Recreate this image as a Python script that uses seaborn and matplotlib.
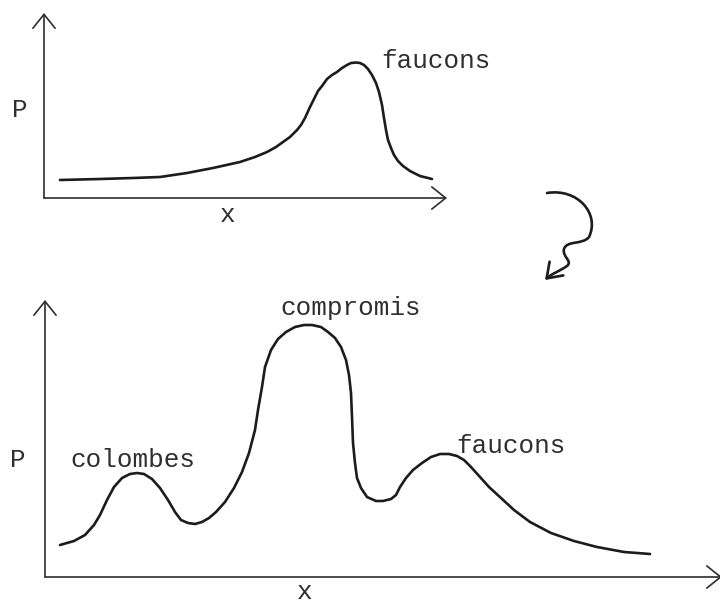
import matplotlib
matplotlib.use("Agg")
import matplotlib.pyplot as plt
from matplotlib.path import Path
from matplotlib.patches import FancyArrowPatch
import pandas as pd
import seaborn as sns

# Upper panel: one dominant population ("faucons"), position x vs probability P
x_top = [16, 36, 56, 89, 116, 143, 169, 196, 211, 223, 232, 239, 246, 253, 257,
         261, 266, 270, 274, 278, 283, 288, 293, 298, 303, 307, 312, 316, 320,
         324, 328, 332, 335, 338, 340, 342, 344, 347, 350, 354, 359, 366, 376, 388]
p_top = [18, 18.5, 19, 20, 21, 25, 30, 36, 41, 46, 51, 56, 61, 68, 73,
         80, 91, 99, 107, 112, 119, 123, 126, 130, 133, 135, 135.5, 135, 133,
         129, 123, 115, 106, 93, 80, 68, 58, 50, 43, 37, 32, 27, 22, 19]

# Lower panel: three populations (colombes / compromis / faucons)
x_bottom = [15, 29, 40, 49, 55, 62, 69, 77, 85, 92, 99, 107, 115, 123, 130,
            136, 143, 150, 157, 164, 171, 180, 189, 197, 204, 210, 213, 217, 220,
            226, 233, 241, 250, 259, 267, 276, 283, 290, 296, 301, 304, 306, 307,
            308, 310, 312, 316, 322, 331, 338, 346, 351, 355, 361, 368, 377, 386,
            395, 404, 412, 419, 426, 435, 444, 456, 469, 485, 506, 529, 552, 579, 605]
p_bottom = [32, 36, 42, 52, 62, 77, 90, 99, 103, 104, 103, 98, 89, 77, 65,
            57, 54, 53, 55, 59, 65, 75, 89, 105, 124, 147, 167, 190, 210,
            227, 238, 245, 250, 252, 252, 250, 245, 239, 230, 217, 202, 184, 160,
            134, 114, 99, 89, 80, 76, 76, 78, 82, 90, 99, 107, 114, 120,
            123, 123, 121, 117, 110, 100, 90, 79, 67, 55, 44, 36, 30, 25, 23]

top_labels = ["faucons"]
bottom_labels = ["colombes", "compromis", "faucons"]
axis_x_label = "x"
axis_y_label = "P"

sns.set_theme(style="white")
plt.rcParams["font.family"] = ["Liberation Mono", "DejaVu Sans Mono"]

W, H = 720, 605
INK = "#1c1c1c"
AXIS = "#2e2e2e"
TEXT = "#2f2f2f"
FS = 18.7

fig = plt.figure(figsize=(W / 100, H / 100), dpi=100)
fig.patch.set_facecolor("white")


def pixel_axes(left, top, right, bottom):
    return fig.add_axes([left / W, 1 - bottom / H, (right - left) / W, (bottom - top) / H])


def style_axes(ax, xmax, ymax):
    ax.set_xlim(0, xmax)
    ax.set_ylim(0, ymax)
    ax.set_facecolor("none")
    ax.set_xticks([])
    ax.set_yticks([])
    ax.set_xlabel("")
    ax.set_ylabel("")
    sns.despine(ax=ax, left=True, bottom=True)
    for tip in [(1, 0), (0, 1)]:
        ax.annotate("", xy=tip, xytext=(0, 0), xycoords="axes fraction",
                    textcoords="axes fraction", annotation_clip=False,
                    arrowprops=dict(arrowstyle="->,head_length=0.5,head_width=0.4",
                                    color=AXIS, lw=1.2, mutation_scale=20,
                                    shrinkA=0, shrinkB=0))


ax_top = pixel_axes(44, 13, 447, 198)
ax_bot = pixel_axes(45, 300, 722, 577)

top_df = pd.DataFrame({"x": x_top, "P": p_top})
bot_df = pd.DataFrame({"x": x_bottom, "P": p_bottom})

line_kw = dict(color=INK, lw=1.9, sort=False, estimator=None,
               solid_joinstyle="round", solid_capstyle="round")
sns.lineplot(data=top_df, x="x", y="P", ax=ax_top, **line_kw)
sns.lineplot(data=bot_df, x="x", y="P", ax=ax_bot, **line_kw)

style_axes(ax_top, 403, 185)
style_axes(ax_bot, 677, 277)

label_kw = dict(fontsize=FS, color=TEXT, ha="left", va="baseline", clip_on=False)
ax_top.text(337, 130, top_labels[0], **label_kw)
for name, (lx, ly) in zip(bottom_labels, [(25, 110), (235, 262), (411, 124)]):
    ax_bot.text(lx, ly, name, **label_kw)

# axis names, placed in pixel space of the figure
axis_kw = dict(fontsize=FS, color=TEXT, ha="center", va="baseline")
for txt, (cx, by) in [(axis_y_label, (20, 117)), (axis_x_label, (228, 222)),
                      (axis_y_label, (18, 467)), (axis_x_label, (305, 599))]:
    fig.text(cx / W, 1 - by / H, txt, **axis_kw)

# curly arrow linking the two panels
curl_px = [(547, 193), (578, 188), (600, 214), (589, 237),
           (583, 245), (567, 240), (564, 249),
           (562, 257), (573, 261), (567, 266),
           (560, 271), (551, 274), (545, 280)]
codes = [Path.MOVETO] + [Path.CURVE4] * 12
curl = Path([(px / W, 1 - py / H) for px, py in curl_px], codes)
fig.patches.append(FancyArrowPatch(path=curl, transform=fig.transFigure,
                                   arrowstyle="->,head_length=0.5,head_width=0.35",
                                   mutation_scale=20, color=INK, lw=1.9,
                                   joinstyle="round", capstyle="round"))

fig.savefig("out.png", dpi=100)
